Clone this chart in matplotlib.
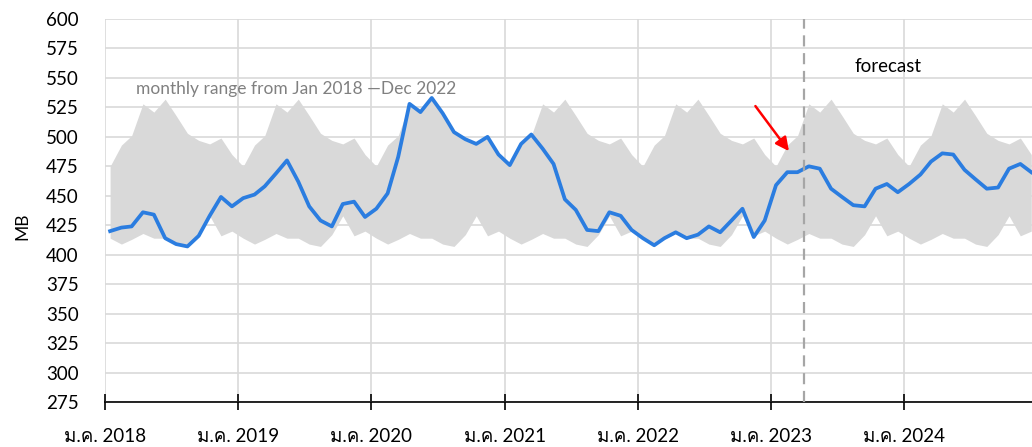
import matplotlib
matplotlib.use('Agg')
import matplotlib.pyplot as plt
from matplotlib import font_manager
from matplotlib.ft2font import FT2Font
from datetime import date

# monthly band (same shape every year), Jan..Dec
band_hi = [475, 493, 501, 528, 521, 532, 518, 503, 497, 494, 499, 485]
band_lo = [414, 409, 413, 418, 414, 414, 409, 407, 417, 433, 416, 420]

# monthly series, Jan 2018 .. Dec 2024
series = [
    420, 423, 424, 436, 434, 414, 409, 407, 416, 433, 449, 441,  # 2018
    448, 451, 458, 469, 480, 462, 441, 429, 424, 443, 445, 432,  # 2019
    439, 452, 483, 528, 521, 533, 520, 504, 498, 494, 500, 485,  # 2020
    476, 494, 502, 490, 477, 447, 438, 421, 420, 436, 433, 421,  # 2021
    414, 408, 414, 419, 414, 417, 424, 419, 429, 439, 415, 429,  # 2022
    459, 470, 470, 475, 473, 456, 449, 442, 441, 456, 460, 453,  # 2023
    460, 468, 479, 486, 485, 472, 464, 456, 457, 473, 477, 470,  # 2024
]
years = list(range(2018, 2025))
tick_labels = ['ม.ค. %d' % y for y in years]
forecast_start = date(2023, 4, 1)


def thai_family():
    # find an installed font that has Thai glyphs
    for f in font_manager.fontManager.ttflist:
        try:
            if FT2Font(f.fname).get_char_index(ord('ม')):
                return f.name
        except Exception:
            pass
    return None


fam = ['Lato']
tf = thai_family()
if tf:
    fam.append(tf)
fam.append('DejaVu Sans')
plt.rcParams['font.family'] = fam

dates = [date(2018 + i // 12, i % 12 + 1, 15) for i in range(len(series))]
hi = [band_hi[i % 12] for i in range(len(series))]
lo = [band_lo[i % 12] for i in range(len(series))]

fig = plt.figure(figsize=(10.32, 4.47), dpi=100)
ax = fig.add_axes([105 / 1032, 1 - 402 / 447, 1 - 105 / 1032, (402 - 19) / 447])

ax.fill_between(dates, lo, hi, color='#d9d9d9', lw=0, zorder=1)
ax.plot(dates, series, color='#2b7de0', lw=2.7, zorder=3)
ax.axvline(forecast_start, color='#a6a6a6', lw=1.6, ls=(0, (5, 3)), zorder=4)

ax.set_ylim(275, 600)
ax.set_yticks(range(275, 601, 25))
ax.set_xlim(date(2018, 1, 1), date(2024, 12, 17))
ax.set_xticks([date(y, 1, 1) for y in years])
ax.set_xticklabels(tick_labels)

ax.grid(True, color='#d9d9d9', lw=1.2, zorder=0)
ax.set_axisbelow(True)
for s in ['top', 'right', 'left']:
    ax.spines[s].set_visible(False)
ax.spines['bottom'].set_color('black')
ax.spines['bottom'].set_linewidth(1.2)
ax.tick_params(axis='y', length=0, pad=19, labelsize=13.5)
ax.tick_params(axis='x', direction='inout', length=11, width=1.2, pad=13, labelsize=13.5)

fig.text(22 / 1032, 1 - 226 / 447, 'MB', rotation=90, ha='center', va='center', fontsize=12.5)
ax.text(date(2018, 3, 27), 541, 'monthly range from Jan 2018 \u2014Dec 2022', color='#808080',
        fontsize=12.5, va='center', ha='left')
ax.text(date(2023, 11, 18), 560, 'forecast', color='black', fontsize=13.5, va='center', ha='center')
ax.annotate('', xy=(date(2023, 2, 24), 486), xytext=(date(2022, 11, 15), 528),
            arrowprops=dict(arrowstyle='-|>,head_length=0.8,head_width=0.4', color='#ff0000', lw=1.8))

fig.savefig('out.png', dpi=100)
